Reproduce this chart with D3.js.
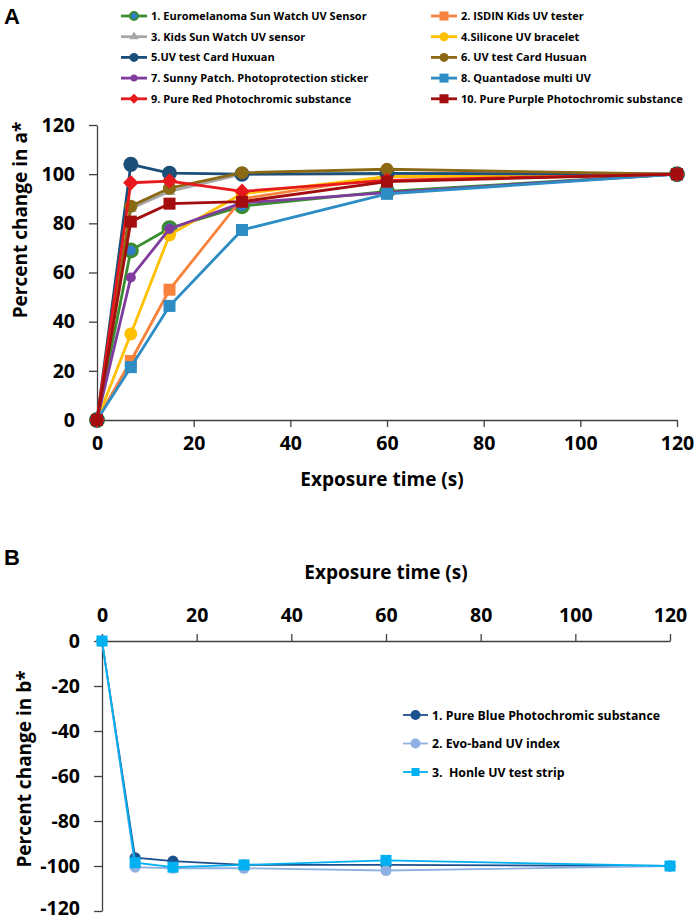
<!DOCTYPE html>
<meta charset="utf-8">
<style>
body { margin: 0; background: #fff; }
svg text { font-family: "Open Sans", sans-serif; font-weight: bold; fill: #000; }
.axis path, .axis line { stroke: #404040; stroke-width: 1.3; }
.axis text { font-size: 19.5px; font-family: "Open Sans", sans-serif; font-weight: bold; }
.leg text { white-space: pre; }
</style>
<svg id="chart" width="699" height="920"></svg>
<script src="https://cdn.jsdelivr.net/npm/d3@7"></script>
<script>

var times = [0, 7, 15, 30, 60, 120];
var ticksX = [0, 20, 40, 60, 80, 100, 120];

var namesA = ["1. Euromelanoma Sun Watch UV Sensor", "2. ISDIN Kids UV tester",
  "3. Kids Sun Watch UV sensor", "4.Silicone UV bracelet",
  "5.UV test Card Huxuan", "6. UV test Card Husuan",
  "7. Sunny Patch. Photoprotection sticker", "8. Quantadose multi UV",
  "9. Pure Red Photochromic substance", "10. Pure Purple Photochromic substance"];
var valuesA = [
  [0, 69, 78, 87, 93, 100],
  [0, 24, 53, 90, 99, 100],
  [0, 86, 93, 100, 100, 100],
  [0, 35, 75.3, 92, 99, 100],
  [0, 104, 100.4, 100, 100.3, 100],
  [0, 87, 94.3, 100.6, 102, 100],
  [0, 58, 77.7, 88.3, 92.5, 100],
  [0, 21.5, 46.4, 77.3, 92, 100],
  [0, 96.5, 97.2, 93, 97.5, 100],
  [0, 80.7, 88, 88.8, 97, 100]];
var ticksYA = [0, 20, 40, 60, 80, 100, 120];

var namesB = ["1. Pure Blue Photochromic substance", "2. Evo-band UV index", "3.  Honle UV test strip"];
var valuesB = [
  [0, -96.3, -97.8, -99.5, -99.5, -100],
  [0, -100.5, -101, -101, -102, -100],
  [0, -98.5, -100.5, -99.5, -97.5, -100]];
var ticksYB = [0, -20, -40, -60, -80, -100, -120];

// styles
var colA = ["#3a8d2f", "#f8823c", "#a6a6a6", "#ffc000", "#1b4f7a", "#8b6914", "#7f3b9e", "#2d8dc4", "#e8191d", "#a30d0d"];
var shapeA = ["circle", "square", "triangle", "circle", "circle", "circle", "circle", "square", "diamond", "square"];
var sizeA = [13, 12, 12, 13, 15, 13, 10, 12, 11, 12];
var colB = ["#1c4f8e", "#8fb1e2", "#00b0f0"];
var shapeB = ["circle", "circle", "square"];

var svg = d3.select("#chart");
var plain = function (d) { return String(d); };

function marker(g, shape, d, fill, stroke) {
  var sym, size, rot = 0;
  if (shape === "circle") { sym = d3.symbolCircle; size = Math.PI * d * d / 4; }
  else if (shape === "square") { sym = d3.symbolSquare; size = d * d; }
  else if (shape === "triangle") { sym = d3.symbolTriangle; size = d * d * 0.45; }
  else { sym = d3.symbolSquare; size = d * d; rot = 45; }
  return g.append("path").attr("d", d3.symbol(sym, size)())
    .attr("fill", fill).attr("stroke", stroke || "none")
    .attr("transform", "rotate(" + rot + ")");
}

// ---------- Panel A ----------
var xA = d3.scaleLinear().domain([0, 120]).range([97, 677]);
var yA = d3.scaleLinear().domain([0, 120]).range([420, 125]);

svg.append("g").attr("class", "axis").attr("transform", "translate(0," + yA(0) + ")")
  .call(d3.axisBottom(xA).tickValues(ticksX).tickFormat(plain).tickSize(7).tickSizeOuter(0).tickPadding(9));
svg.append("g").attr("class", "axis").attr("transform", "translate(" + xA(0) + ",0)")
  .call(d3.axisLeft(yA).tickValues(ticksYA).tickFormat(plain).tickSize(8).tickSizeOuter(0).tickPadding(14));

var lineA = d3.line().x(function (d, i) { return xA(times[i]); }).y(function (d) { return yA(d); });

valuesA.forEach(function (vals, s) {
  svg.append("path").attr("d", lineA(vals)).attr("fill", "none")
    .attr("stroke", colA[s]).attr("stroke-width", 2.8).attr("stroke-linejoin", "round");
  vals.forEach(function (v, i) {
    var g = svg.append("g").attr("transform", "translate(" + xA(times[i]) + "," + yA(v) + ")");
    if (s === 0) {
      marker(g, "circle", sizeA[s], "#2e7dc6", colA[s]).attr("stroke-width", 3);
    } else {
      marker(g, shapeA[s], sizeA[s], colA[s]);
    }
  });
});

svg.append("text").attr("x", (xA(0) + xA(120)) / 2 - 5).attr("y", 486)
  .attr("text-anchor", "middle").attr("font-size", 19).text("Exposure time (s)");
svg.append("text").attr("transform", "translate(27," + 220 + ") rotate(-90)")
  .attr("text-anchor", "middle").attr("font-size", 19).text("Percent change in a*");
svg.append("text").attr("x", 4).attr("y", 24).attr("font-size", 22)
  .style("font-family", "'Liberation Sans', Arial, sans-serif").text("A");

// legend A
var legA = svg.append("g").attr("class", "leg");
namesA.forEach(function (n, s) {
  var col = s % 2, row = Math.floor(s / 2);
  var x0 = col === 0 ? 121 : 431, y0 = 16 + row * 20.7;
  legA.append("line").attr("x1", x0).attr("x2", x0 + 26).attr("y1", y0).attr("y2", y0)
    .attr("stroke", colA[s]).attr("stroke-width", 2.8);
  var g = legA.append("g").attr("transform", "translate(" + (x0 + 13) + "," + y0 + ")");
  if (s === 0) marker(g, "circle", 8, "#2e7dc6", colA[s]).attr("stroke-width", 2);
  else marker(g, shapeA[s], s === 6 || s === 8 ? 7 : 9, colA[s]);
  legA.append("text").attr("x", x0 + 30).attr("y", y0 + 4).attr("font-size", 11).text(n);
});

// ---------- Panel B ----------
var xB = d3.scaleLinear().domain([0, 120]).range([102, 670]);
var yB = d3.scaleLinear().domain([-120, 0]).range([911, 641]);

svg.append("g").attr("class", "axis").attr("transform", "translate(0," + yB(0) + ")")
  .call(d3.axisTop(xB).tickValues(ticksX).tickFormat(plain).tickSize(7).tickSizeOuter(0).tickPadding(12));
var yAxisB = svg.append("g").attr("class", "axis").attr("transform", "translate(" + xB(0) + ",0)")
  .call(d3.axisLeft(yB).tickValues(ticksYB).tickFormat(plain).tickSize(8).tickSizeOuter(0).tickPadding(14));
yAxisB.selectAll(".tick text").filter(function (d) { return d === -120; }).attr("dy", "0.2em");

var lineB = d3.line().x(function (d, i) { return xB(times[i]); }).y(function (d) { return yB(d); });

valuesB.forEach(function (vals, s) {
  svg.append("path").attr("d", lineB(vals)).attr("fill", "none")
    .attr("stroke", colB[s]).attr("stroke-width", 1.8);
  vals.forEach(function (v, i) {
    var g = svg.append("g").attr("transform", "translate(" + xB(times[i]) + "," + yB(v) + ")");
    marker(g, shapeB[s], 11, colB[s]);
  });
});

svg.append("text").attr("x", (xB(0) + xB(120)) / 2).attr("y", 579)
  .attr("text-anchor", "middle").attr("font-size", 19).text("Exposure time (s)");
svg.append("text").attr("transform", "translate(31," + 769 + ") rotate(-90)")
  .attr("text-anchor", "middle").attr("font-size", 19).text("Percent change in b*");
svg.append("text").attr("x", 4).attr("y", 565).attr("font-size", 22)
  .style("font-family", "'Liberation Sans', Arial, sans-serif").text("B");

var legB = svg.append("g").attr("class", "leg");
namesB.forEach(function (n, s) {
  var x0 = 403, y0 = 715 + s * 28.5;
  legB.append("line").attr("x1", x0).attr("x2", x0 + 25).attr("y1", y0).attr("y2", y0)
    .attr("stroke", colB[s]).attr("stroke-width", 1.8);
  var g = legB.append("g").attr("transform", "translate(" + (x0 + 12.5) + "," + y0 + ")");
  marker(g, shapeB[s], shapeB[s] === "square" ? 8 : 10, colB[s]);
  legB.append("text").attr("x", x0 + 29).attr("y", y0 + 4.5).attr("font-size", 12.3).text(n);
});

</script>
